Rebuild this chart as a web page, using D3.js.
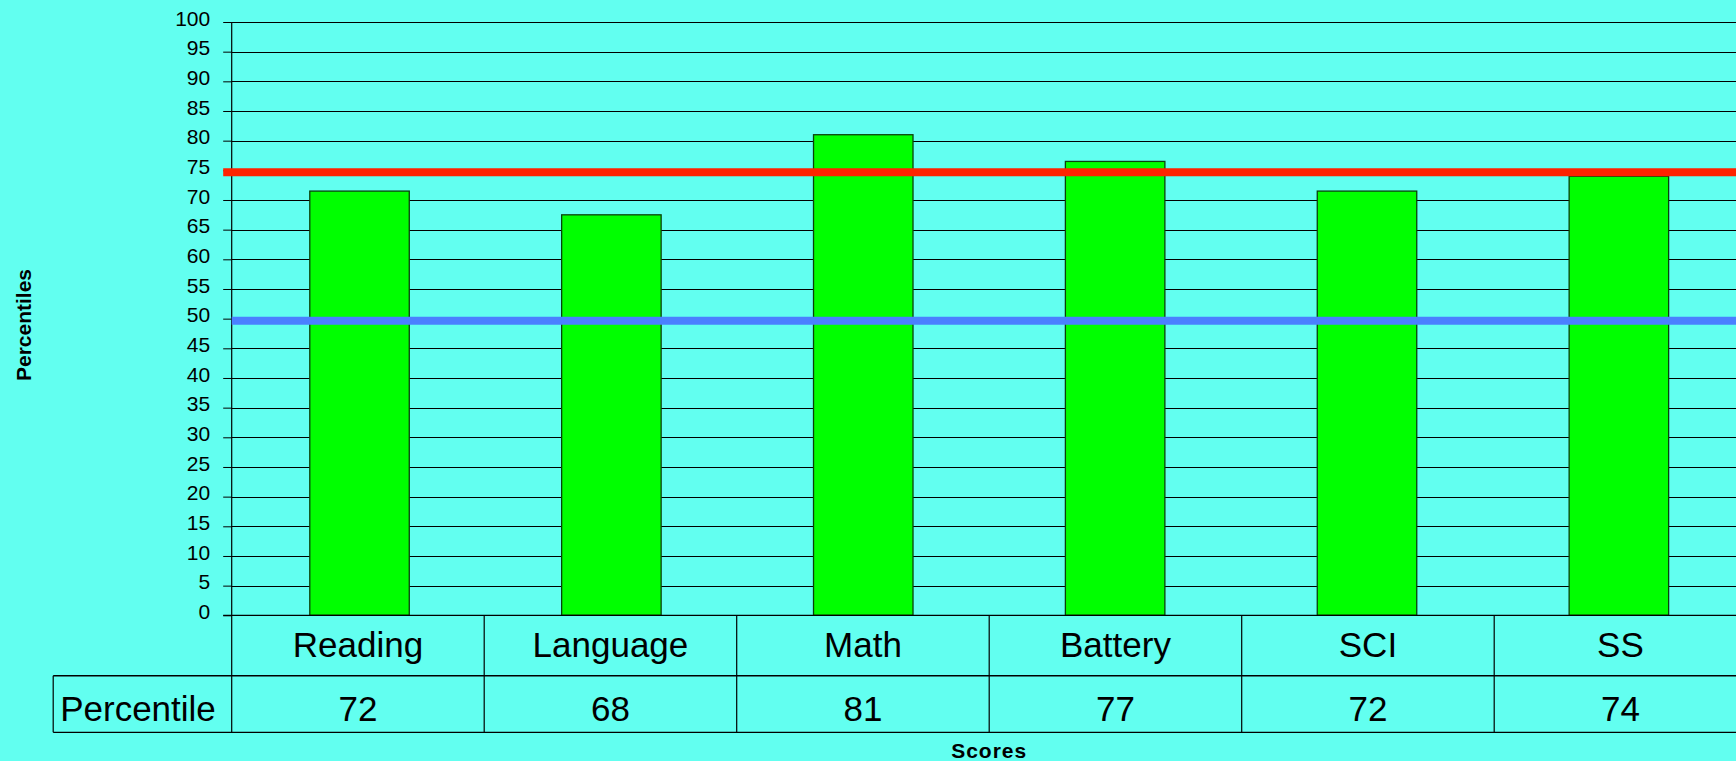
<!DOCTYPE html>
<html>
<head>
<meta charset="utf-8">
<script src="https://cdn.jsdelivr.net/npm/d3@7"></script>
<style>
	html, body { margin: 0; padding: 0; background: #62fff0; }
	svg { display: block; font-family: "Liberation Sans", Arial, sans-serif; }
</style>
</head>
<body>
<svg id="chart" width="1736" height="761"></svg>
<script>
// Test percentiles by subject, with a data table under the bars

var categories = ['Reading', 'Language', 'Math', 'Battery', 'SCI', 'SS']
// bar heights as drawn; the table shows them rounded
var percentiles = [71.5, 67.5, 81, 76.5, 71.5, 74]
var yTicks = [0, 5, 10, 15, 20, 25, 30, 35, 40, 45, 50, 55, 60, 65, 70, 75, 80, 85, 90, 95, 100]
var refValues = [75, 50]
var refColors = ['#ff2200', '#4a80ff']
var rowLabel = 'Percentile'

var svg = d3.select('#chart'),
	W = +svg.attr('width'),
	plotLeft = 231.7, plotTop = 22, plotBottom = 615.3,
	cellW = 252.5,
	plotRight = plotLeft + categories.length * cellW,
	catRowBottom = 675.7, valRowBottom = 732.3,
	tableLeft = 53.2,
	tickLen = 8.5

var y = d3.scaleLinear().domain([0, 100]).range([plotBottom, plotTop])
var x = d3.scaleBand().domain(categories).range([plotLeft, plotRight])
	.paddingInner(0.605).paddingOuter(0.31)
var cell = d3.scaleBand().domain(categories).range([plotLeft, plotRight])
var fmt = d3.format('.0f')

var data = categories.map(function(c, i) { return {name: c, value: percentiles[i]} })

// grid lines
svg.append('g').selectAll('line').data(yTicks.filter(function(t) { return t > 0 }))
	.enter().append('line')
	.attr('x1', plotLeft).attr('x2', W)
	.attr('y1', function(t) { return Math.round(y(t)) + 0.5 })
	.attr('y2', function(t) { return Math.round(y(t)) + 0.5 })
	.attr('stroke', '#000').attr('stroke-width', 1)

// bars
svg.append('g').selectAll('rect').data(data)
	.enter().append('rect')
	.attr('x', function(d) { return x(d.name) })
	.attr('width', x.bandwidth())
	.attr('y', function(d) { return y(d.value) })
	.attr('height', function(d) { return y(0) - y(d.value) })
	.attr('fill', '#00ff00')
	.attr('stroke', '#0b400b').attr('stroke-width', 1.3)

// y axis
var yAxis = svg.append('g')
	.attr('transform', 'translate(' + plotLeft + ',0)')
	.call(d3.axisLeft(y).tickValues(yTicks).tickSize(tickLen).tickPadding(13).tickSizeOuter(0))
yAxis.select('.domain').remove()
yAxis.selectAll('line').attr('stroke', '#000')
yAxis.selectAll('text')
	.attr('font-size', 21).attr('fill', '#000')
	.attr('font-family', '"Liberation Sans", Arial, sans-serif')
	.attr('dy', '0.15em')

// axis line running down through the table
svg.append('line')
	.attr('x1', plotLeft).attr('x2', plotLeft)
	.attr('y1', plotTop).attr('y2', valRowBottom)
	.attr('stroke', '#000').attr('stroke-width', 1.2)

// x axis line (top of table)
svg.append('line')
	.attr('x1', plotLeft - tickLen).attr('x2', W)
	.attr('y1', y(0)).attr('y2', y(0))
	.attr('stroke', '#000').attr('stroke-width', 1.2)

// reference lines
svg.append('g').selectAll('line').data(refValues)
	.enter().append('line')
	.attr('x1', function(d, i) { return i === 0 ? plotLeft - tickLen : plotLeft })
	.attr('x2', W)
	.attr('y1', function(d) { return y(d) + 2 })
	.attr('y2', function(d) { return y(d) + 2 })
	.attr('stroke', function(d, i) { return refColors[i] })
	.attr('stroke-width', 8)

// data table
var table = svg.append('g')
table.append('line')
	.attr('x1', tableLeft).attr('x2', W)
	.attr('y1', catRowBottom).attr('y2', catRowBottom)
	.attr('stroke', '#000').attr('stroke-width', 1.5)
table.append('line')
	.attr('x1', tableLeft).attr('x2', W)
	.attr('y1', valRowBottom).attr('y2', valRowBottom)
	.attr('stroke', '#000').attr('stroke-width', 1.2)
table.append('line')
	.attr('x1', tableLeft).attr('x2', tableLeft)
	.attr('y1', catRowBottom).attr('y2', valRowBottom)
	.attr('stroke', '#000').attr('stroke-width', 1.2)

table.selectAll('line.sep').data(categories.slice(1))
	.enter().append('line').attr('class', 'sep')
	.attr('x1', function(d) { return cell(d) }).attr('x2', function(d) { return cell(d) })
	.attr('y1', y(0)).attr('y2', valRowBottom)
	.attr('stroke', '#000').attr('stroke-width', 1.2)

table.selectAll('text.cat').data(data)
	.enter().append('text').attr('class', 'cat')
	.attr('x', function(d) { return cell(d.name) + cell.bandwidth() / 2 })
	.attr('y', 657.3)
	.attr('text-anchor', 'middle')
	.attr('font-size', 35)
	.text(function(d) { return d.name })

table.selectAll('text.val').data(data)
	.enter().append('text').attr('class', 'val')
	.attr('x', function(d) { return cell(d.name) + cell.bandwidth() / 2 })
	.attr('y', 720.5)
	.attr('text-anchor', 'middle')
	.attr('font-size', 35)
	.text(function(d) { return fmt(d.value) })

table.append('text')
	.attr('x', tableLeft + 7).attr('y', 720.5)
	.attr('font-size', 35)
	.text(rowLabel)

// axis titles
svg.append('text')
	.attr('transform', 'translate(31,325) rotate(-90)')
	.attr('text-anchor', 'middle')
	.attr('font-size', 21).attr('font-weight', 'bold')
	.text('Percentiles')

svg.append('text')
	.attr('x', plotLeft + (plotRight - plotLeft) / 2).attr('y', 758)
	.attr('text-anchor', 'middle')
	.attr('font-size', 21).attr('font-weight', 'bold')
	.attr('letter-spacing', 1)
	.text('Scores')
</script>
</body>
</html>
